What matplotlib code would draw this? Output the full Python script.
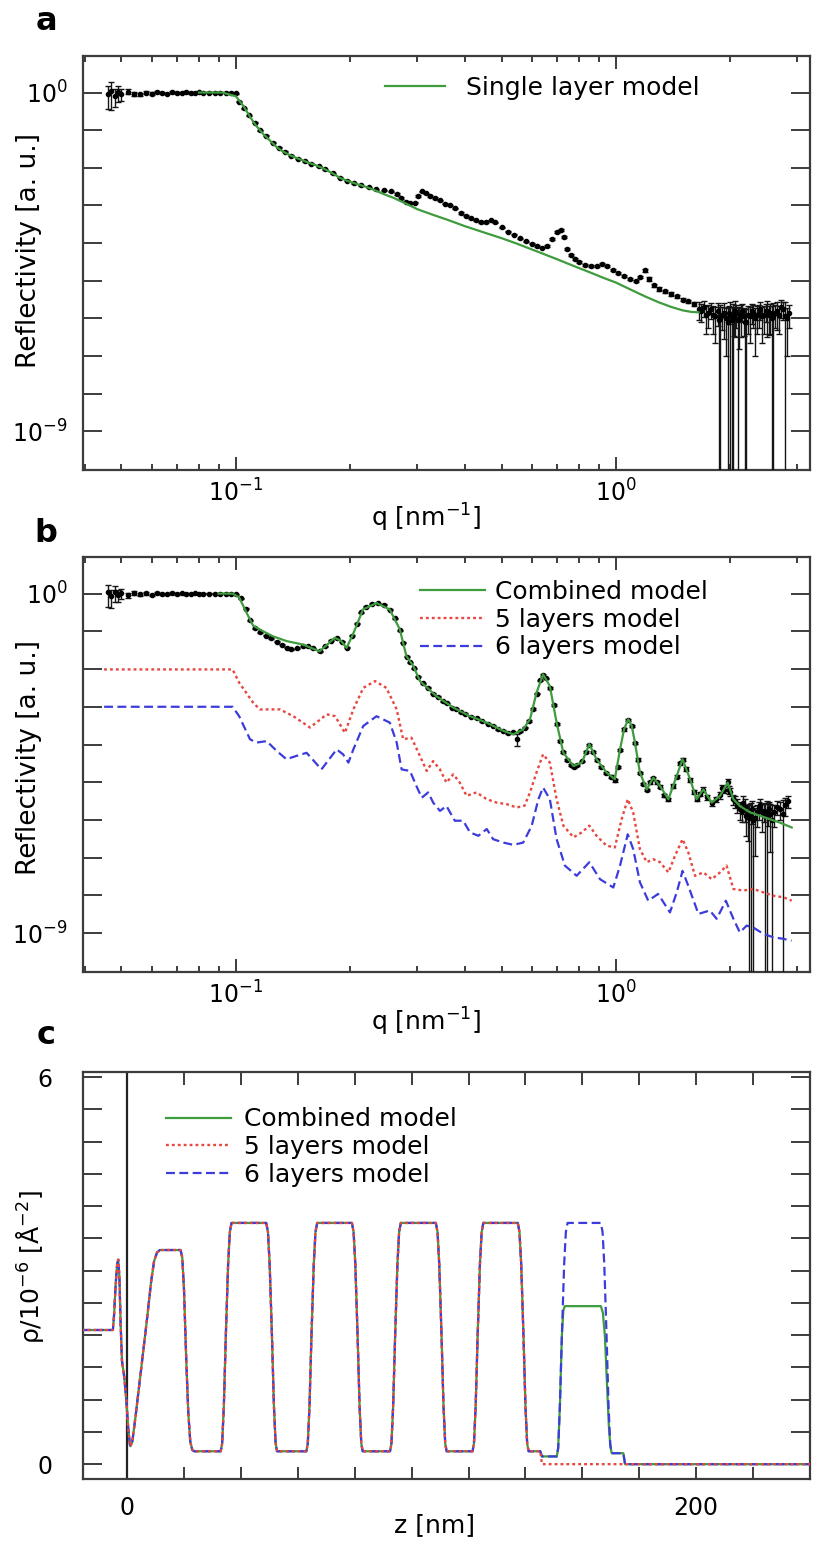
import numpy as np
import matplotlib
matplotlib.use("Agg")
import matplotlib.pyplot as plt
from matplotlib.ticker import FixedLocator, FixedFormatter, NullLocator, NullFormatter

# ------------------------------------------------------------------ data
# ---- panel a : measured reflectivity (q in nm^-1, log10 R, relative error)
qa_data = [
    0.046, 0.047, 0.048, 0.049, 0.050, 0.052, 0.054, 0.056, 0.058, 0.060,
    0.062, 0.064, 0.066, 0.068, 0.070, 0.072, 0.074, 0.076, 0.078, 0.080,
    0.082, 0.085, 0.088, 0.091, 0.094, 0.097, 0.100,
    0.102, 0.105, 0.108, 0.112, 0.116, 0.120, 0.125, 0.130, 0.135, 0.140,
    0.146, 0.152, 0.158, 0.165, 0.172, 0.180, 0.188, 0.196, 0.205, 0.214,
    0.224, 0.234, 0.245, 0.256,
    0.265, 0.272, 0.280, 0.288, 0.296, 0.302, 0.308, 0.316, 0.325, 0.335,
    0.345, 0.355, 0.365, 0.378, 0.390, 0.402, 0.415, 0.428, 0.442, 0.455,
    0.468, 0.480, 0.500, 0.520, 0.540, 0.560, 0.580, 0.600, 0.620, 0.640,
    0.660, 0.680, 0.700, 0.715, 0.730, 0.745, 0.760, 0.780, 0.800, 0.830,
    0.860, 0.890, 0.920, 0.950, 0.980, 1.010, 1.050, 1.090, 1.130, 1.160,
    1.190, 1.220, 1.260, 1.300, 1.350, 1.400, 1.450, 1.500, 1.550, 1.600,
    1.65, 1.70, 1.75, 1.80, 1.85, 1.88, 1.92, 1.97, 2.00, 2.03,
    2.06, 2.09, 2.13, 2.17, 2.20, 2.25, 2.30, 2.35, 2.40, 2.45,
    2.50, 2.55, 2.59, 2.65, 2.72, 2.79, 2.85]
logRa_data = [
    -0.03, 0.05, -0.08, 0.02, -0.05, 0.02, -0.03, -0.05, 0.00, -0.03,
    0.02, -0.02, -0.03, 0.01, -0.02, 0.00, 0.01, -0.02, 0.00, 0.01,
    0.00, -0.01, 0.00, 0.00, 0.00, 0.00, -0.02,
    -0.25, -0.42, -0.60, -0.80, -1.00, -1.15, -1.33, -1.47, -1.58, -1.68,
    -1.76, -1.83, -1.89, -1.96, -2.04, -2.15, -2.27, -2.35, -2.41, -2.46,
    -2.52, -2.57, -2.60, -2.63,
    -2.70, -2.80, -2.90, -2.94, -2.93, -2.75, -2.63, -2.68, -2.75, -2.80,
    -2.86, -2.95, -3.00, -3.08, -3.20, -3.27, -3.34, -3.40, -3.45, -3.44,
    -3.40, -3.45, -3.58, -3.70, -3.78, -3.87, -3.95, -4.02, -4.08, -4.12,
    -4.08, -3.90, -3.70, -3.65, -3.85, -4.15, -4.32, -4.42, -4.50, -4.58,
    -4.62, -4.60, -4.56, -4.60, -4.72, -4.80, -4.88, -4.95, -5.02, -4.90,
    -4.72, -4.95, -5.12, -5.22, -5.28, -5.35, -5.42, -5.50, -5.55, -5.62,
    -5.75, -5.70, -5.85, -5.90, -5.80, -6.00, -5.85, -6.10, -5.90, -6.00,
    -5.80, -6.05, -5.90, -5.95, -6.10, -5.95, -5.85, -5.90, -5.75, -5.90,
    -5.80, -5.85, -5.95, -5.80, -5.70, -5.95, -5.85]
rela_data = ([0.60, 0.70, 0.50, 0.45, 0.35, 0.15, 0.12, 0.10, 0.08, 0.08,
              0.06, 0.06, 0.05, 0.05, 0.05, 0.04, 0.04, 0.04, 0.03, 0.03,
              0.03, 0.03, 0.03, 0.03, 0.03, 0.03, 0.03]
             + [0.03] * 24 + [0.04] * 30 + [0.06] * 20 + [0.10] * 10
             + [0.50, 0.45, 0.60, 0.70, 0.60, 1.30, 0.80, 1.50, 1.20, 1.40,
                0.80, 1.30, 0.75, 0.70, 1.20, 0.80, 0.60, 0.70, 0.50, 0.70,
                0.80, 0.75, 1.30, 0.70, 0.50, 1.40, 0.60])
# extra noisy high-q points of panel a
qa_hi = [1.675, 1.725, 1.775, 1.825, 1.865, 1.90, 1.945, 1.985, 2.015, 2.045,
         2.075, 2.11, 2.15, 2.185, 2.225, 2.275, 2.325, 2.375, 2.425, 2.475,
         2.525, 2.57, 2.62, 2.685, 2.755, 2.82]
logRa_hi = [-5.80, -5.90, -5.75, -5.95, -6.05, -5.90, -6.00, -5.85, -6.05, -5.95,
            -5.85, -6.00, -5.80, -6.10, -5.90, -5.80, -6.00, -5.85, -5.95, -5.80,
            -5.90, -6.00, -5.85, -5.90, -5.75, -6.00]
rela_hi = [0.50, 0.70, 0.45, 0.80, 1.20, 0.60, 0.90, 0.50, 1.30, 0.70,
           0.60, 0.85, 0.50, 1.20, 0.70, 0.55, 0.90, 0.60, 0.80, 0.50,
           0.70, 1.10, 0.60, 0.70, 0.50, 0.90]

# ---- panel a : single layer model
qa_model = [0.08, 0.092, 0.1, 0.105, 0.109, 0.113, 0.118, 0.123, 0.128, 0.133,
            0.139, 0.146, 0.154, 0.162, 0.17, 0.179, 0.188, 0.198, 0.208, 0.219,
            0.23, 0.245, 0.26, 0.28, 0.3, 0.33, 0.36, 0.4, 0.45, 0.5,
            0.55, 0.63, 0.7, 0.77, 0.85, 0.93, 1.0, 1.1, 1.2, 1.3,
            1.4, 1.5, 1.58, 1.65]
logRa_model = [0, 0, -0.1, -0.38, -0.65, -0.88, -1.1, -1.28, -1.45, -1.57,
               -1.67, -1.76, -1.85, -1.93, -2.02, -2.14, -2.27, -2.36, -2.43, -2.5,
               -2.58, -2.7, -2.8, -2.95, -3.1, -3.25, -3.38, -3.55, -3.72, -3.87,
               -4.02, -4.25, -4.43, -4.6, -4.77, -4.93, -5.05, -5.25, -5.43, -5.58,
               -5.7, -5.79, -5.83, -5.84]

# ---- panel b : measured reflectivity
qb_data = [
    0.046, 0.047, 0.048, 0.049, 0.050, 0.052, 0.054, 0.056, 0.058, 0.060,
    0.062, 0.064, 0.066, 0.068, 0.070, 0.072, 0.074, 0.076, 0.078, 0.080,
    0.082, 0.085, 0.088, 0.091, 0.094, 0.097, 0.100,
    0.103, 0.106, 0.109, 0.112, 0.116, 0.120, 0.124, 0.128, 0.132, 0.136,
    0.140, 0.145, 0.150, 0.155, 0.160, 0.166, 0.172, 0.178, 0.184, 0.190,
    0.196, 0.202, 0.208, 0.214, 0.220, 0.228, 0.236, 0.245, 0.254, 0.262,
    0.270, 0.276, 0.282, 0.288, 0.295, 0.302, 0.310, 0.320, 0.330, 0.340,
    0.350, 0.360, 0.370, 0.380, 0.390, 0.400, 0.415, 0.430, 0.445, 0.460,
    0.475, 0.490, 0.505, 0.520, 0.535, 0.548, 0.560, 0.575, 0.590, 0.605,
    0.618, 0.630, 0.643, 0.656, 0.670, 0.685, 0.698, 0.712, 0.727, 0.745,
    0.760, 0.775, 0.790, 0.813, 0.832, 0.851, 0.870, 0.889, 0.915, 0.944,
    0.970, 0.993, 1.010, 1.025, 1.050, 1.077, 1.100, 1.122, 1.140, 1.156,
    1.180, 1.205, 1.230, 1.254, 1.280, 1.306, 1.340, 1.374, 1.410, 1.445,
    1.470, 1.497, 1.530, 1.567, 1.600, 1.630, 1.660, 1.698, 1.740, 1.786,
    1.830, 1.879, 1.920, 1.967, 2.000, 2.037, 2.080, 2.118, 2.160, 2.200,
    2.240, 2.280, 2.300, 2.350, 2.400, 2.450, 2.490, 2.530, 2.570, 2.650,
    2.750, 2.830]
logRb_data = [
    0.03, -0.07, 0.05, -0.03, 0.01, -0.04, 0.02, -0.02, 0.01, -0.03,
    0.01, 0.00, -0.02, 0.01, -0.01, 0.01, -0.01, 0.00, 0.01, 0.00,
    -0.01, 0.00, 0.00, 0.00, -0.01, 0.00, -0.02,
    -0.12, -0.40, -0.70, -0.92, -1.02, -1.12, -1.18, -1.28, -1.36, -1.43,
    -1.47, -1.45, -1.40, -1.40, -1.45, -1.53, -1.40, -1.25, -1.18, -1.27,
    -1.44, -1.12, -0.80, -0.50, -0.35, -0.27, -0.25, -0.30, -0.43, -0.65,
    -0.97, -1.30, -1.68, -1.82, -1.98, -2.20, -2.38, -2.50, -2.66, -2.74,
    -2.85, -2.90, -3.02, -3.05, -3.15, -3.18, -3.27, -3.30, -3.38, -3.45,
    -3.50, -3.60, -3.63, -3.70, -3.68, -3.85, -3.65, -3.55, -3.38, -3.05,
    -2.65, -2.30, -2.15, -2.25, -2.50, -2.95, -3.45, -3.90, -4.20, -4.40,
    -4.55, -4.60, -4.55, -4.45, -4.20, -4.00, -4.20, -4.42, -4.60, -4.75,
    -4.85, -4.95, -4.60, -4.15, -3.60, -3.35, -3.50, -3.95, -4.40, -4.75,
    -5.05, -5.20, -5.00, -4.90, -5.00, -5.12, -5.35, -5.45, -5.10, -4.85,
    -4.50, -4.40, -4.65, -4.95, -5.25, -5.45, -5.30, -5.20, -5.40, -5.55,
    -5.45, -5.35, -5.20, -5.00, -5.25, -5.45, -5.60, -5.70, -5.55, -5.90,
    -5.95, -5.70, -6.00, -5.80, -5.60, -5.75, -5.85, -5.70, -6.00, -5.65,
    -5.85, -5.50]
relb_data = ([0.60, 0.50, 0.45, 0.35, 0.30, 0.15, 0.12, 0.10, 0.08, 0.07,
              0.06, 0.06, 0.05, 0.05, 0.05, 0.04, 0.04, 0.04, 0.03, 0.03,
              0.03, 0.03, 0.03, 0.03, 0.03, 0.03, 0.03]
             + [0.03] * 55 + [0.35] + [0.05] * 12 + [0.06] * 12 + [0.07] * 8
             + [0.08] * 8 + [0.10] * 7 + [0.12] * 4 + [0.15] * 4 + [0.20] * 3
             + [0.25, 0.30, 0.40, 0.50, 0.50, 0.70, 1.30, 0.60, 1.40, 0.60,
                0.40, 0.50, 1.30, 0.50, 1.50, 0.40, 1.40, 0.35])
# extra noisy high-q points of panel b
qb_hi = [1.90, 1.985, 2.06, 2.14, 2.18, 2.22, 2.26, 2.32, 2.375, 2.42,
         2.47, 2.51, 2.55, 2.61, 2.70, 2.79]
logRb_hi = [-5.15, -5.20, -5.50, -5.75, -5.65, -5.85, -5.90, -5.95, -5.70, -5.80,
            -5.90, -5.75, -5.85, -5.80, -5.70, -5.60]
relb_hi = [0.20, 0.25, 0.35, 0.50, 0.60, 0.80, 1.20, 0.90, 0.50, 0.70,
           1.30, 0.60, 0.90, 0.60, 0.50, 0.50]

# ---- panel b : models
qb_comb = [0.09, 0.098, 0.102, 0.1067, 0.111, 0.118, 0.125, 0.136, 0.150, 0.166,
           0.174, 0.182, 0.189, 0.1955, 0.204, 0.216, 0.2345, 0.254, 0.27, 0.281,
           0.293, 0.305, 0.337, 0.373, 0.413, 0.457, 0.506, 0.537, 0.57, 0.594,
           0.618, 0.643, 0.67, 0.698, 0.727, 0.773, 0.813, 0.851, 0.889, 0.944,
           0.993, 1.025, 1.05, 1.077, 1.1, 1.122, 1.156, 1.205, 1.254, 1.306,
           1.374, 1.445, 1.497, 1.567, 1.63, 1.698, 1.786, 1.879, 1.967, 2.037,
           2.118, 2.254, 2.399, 2.54, 2.7, 2.9]
logRb_comb = [0, 0, -0.1, -0.51, -0.85, -1.0, -1.13, -1.26, -1.35, -1.53,
              -1.35, -1.17, -1.25, -1.44, -1.04, -0.42, -0.25, -0.42, -0.95, -1.66,
              -1.92, -2.32, -2.72, -3.02, -3.25, -3.42, -3.64, -3.73, -3.6, -3.33,
              -2.63, -2.14, -2.45, -3.42, -4.22, -4.57, -4.48, -3.99, -4.39, -4.74,
              -4.92, -4.13, -3.6, -3.33, -3.5, -3.95, -4.74, -5.19, -4.88, -5.1,
              -5.45, -4.83, -4.39, -4.92, -5.45, -5.19, -5.54, -5.36, -5.01, -5.45,
              -5.63, -5.8, -5.89, -5.98, -6.07, -6.2]
qb_5 = [0.045, 0.098, 0.102, 0.111, 0.1156, 0.1306, 0.1416, 0.1567, 0.1734, 0.1824,
        0.1936, 0.2037, 0.2163, 0.2323, 0.2489, 0.2649, 0.2754, 0.2897, 0.3048, 0.3177,
        0.3304, 0.3443, 0.3581, 0.3733, 0.3882, 0.4046, 0.4295, 0.4571, 0.4853, 0.5152,
        0.548, 0.575, 0.594, 0.618, 0.643, 0.67, 0.698, 0.727, 0.773, 0.813,
        0.851, 0.889, 0.944, 0.993, 1.035, 1.074, 1.11, 1.156, 1.205, 1.254,
        1.306, 1.374, 1.43, 1.497, 1.55, 1.614, 1.698, 1.786, 1.879, 1.954,
        2.037, 2.163, 2.3, 2.443, 2.597, 2.76, 2.9]
logRb_5 = [-2.01, -2.01, -2.36, -2.89, -3.07, -3.07, -3.25, -3.55, -3.2, -3.25,
           -3.69, -3.07, -2.5, -2.32, -2.5, -3.07, -3.86, -3.82, -4.3, -4.7,
           -4.44, -4.66, -5.01, -4.79, -5.01, -5.36, -5.27, -5.45, -5.54, -5.58,
           -5.67, -5.62, -5.27, -4.74, -4.26, -4.48, -5.45, -6.15, -6.46, -6.33,
           -6.15, -6.42, -6.68, -6.73, -5.98, -5.45, -5.8, -6.77, -7.12, -7.04,
           -7.12, -7.39, -6.95, -6.51, -6.86, -7.48, -7.39, -7.57, -7.39, -7.21,
           -7.83, -7.87, -7.83, -7.92, -8.01, -8.05, -8.14]
qb_6 = [0.045, 0.098, 0.102, 0.1089, 0.1132, 0.1205, 0.128, 0.1358, 0.1445, 0.1535,
        0.1679, 0.1841, 0.1914, 0.1977, 0.2037, 0.2163, 0.2344, 0.2541, 0.2649, 0.2729,
        0.2871, 0.2985, 0.3083, 0.3206, 0.3304, 0.3443, 0.3581, 0.3767, 0.3963, 0.413,
        0.4345, 0.4571, 0.4753, 0.5058, 0.537, 0.57, 0.6, 0.625, 0.643, 0.67,
        0.698, 0.734, 0.788, 0.851, 0.908, 0.984, 1.025, 1.074, 1.11, 1.156,
        1.216, 1.291, 1.387, 1.445, 1.497, 1.549, 1.648, 1.766, 1.841, 1.946,
        2.037, 2.118, 2.208, 2.297, 2.443, 2.594, 2.754, 2.897]
logRb_6 = [-3.0, -3.0, -3.25, -3.86, -3.95, -3.91, -4.17, -4.39, -4.3, -4.22,
           -4.66, -4.13, -4.26, -4.48, -4.13, -3.51, -3.25, -3.42, -3.95, -4.66,
           -4.7, -5.1, -5.41, -5.27, -5.54, -5.76, -5.63, -6.02, -6.02, -6.33,
           -6.42, -6.24, -6.51, -6.6, -6.66, -6.6, -6.16, -5.45, -5.14, -5.45,
           -6.51, -7.21, -7.48, -7.12, -7.57, -7.79, -7.21, -6.38, -6.77, -7.65,
           -8.14, -7.96, -8.45, -7.92, -7.35, -7.74, -8.49, -8.4, -8.62, -8.14,
           -8.62, -8.98, -8.8, -8.85, -9.02, -9.11, -9.15, -9.2]

# ---- panel c : scattering length density profiles (z in nm, rho in 1e-6 A^-2)
z_shared = [-16.0, -5.0, -4.6, -4.0, -3.5, -3.1, -2.7, -2.3, -1.8, -1.0, -0.3, 0.4, 1.0, 1.2,
            1.8, 3.0, 5.0, 7.0, 8.5, 9.5, 10.5, 11.5, 18.8, 19.4, 20.0, 20.8, 21.5, 22.2, 22.9, 23.6,
            32.9, 33.4, 34.0, 34.7, 35.5, 36.1, 36.7, 48.9, 49.5, 50.1, 50.9, 51.6, 52.2, 52.7,
            63.0, 63.5, 64.1, 64.8, 65.6, 66.2, 66.8, 79.0, 79.6, 80.2, 81.0, 81.7, 82.3, 82.8,
            92.4, 92.9, 93.5, 94.2, 95.0, 95.6, 96.2, 108.5, 109.1, 109.7, 110.5, 111.2, 111.8, 112.3,
            121.4, 121.9, 122.5, 123.2, 124.0, 124.6, 125.2, 137.3, 137.9, 138.5, 139.3, 140.0, 140.6, 141.1,
            145.2]
rho_shared = [2.08, 2.08, 2.3, 2.8, 3.1, 3.17, 2.9, 2.2, 1.6, 1.35, 1.0, 0.55, 0.3, 0.28,
              0.34, 0.75, 1.5, 2.25, 2.85, 3.15, 3.28, 3.32, 3.32, 3.2, 2.7, 1.6, 0.8, 0.35, 0.22, 0.2,
              0.2, 0.32, 0.9, 2.0, 3.1, 3.6, 3.74, 3.74, 3.6, 3.1, 2.0, 0.9, 0.32, 0.2,
              0.2, 0.32, 0.9, 2.0, 3.1, 3.6, 3.74, 3.74, 3.6, 3.1, 2.0, 0.9, 0.32, 0.2,
              0.2, 0.32, 0.9, 2.0, 3.1, 3.6, 3.74, 3.74, 3.6, 3.1, 2.0, 0.9, 0.32, 0.2,
              0.2, 0.32, 0.9, 2.0, 3.1, 3.6, 3.74, 3.74, 3.6, 3.1, 2.0, 0.9, 0.32, 0.2,
              0.2]
z_tail_comb = [145.8, 151.0, 151.5, 152.1, 152.8, 153.3, 153.8, 166.5, 167.2, 167.9,
               168.6, 169.3, 169.8, 170.3, 174.4, 175.0, 240.0]
rho_tail_comb = [0.12, 0.12, 0.25, 0.9, 2.0, 2.38, 2.45, 2.45, 2.35, 2.0,
                 1.3, 0.6, 0.3, 0.17, 0.17, 0.0, 0.0]
z_tail_5 = [145.8, 240.0]
rho_tail_5 = [0.0, 0.0]
z_tail_6 = [145.8, 151.0, 151.5, 152.1, 152.8, 153.6, 154.2, 154.8, 166.5, 167.1,
            167.7, 168.5, 169.2, 169.8, 170.3, 174.4, 175.0, 240.0]
rho_tail_6 = [0.12, 0.12, 0.25, 0.9, 2.0, 3.1, 3.6, 3.74, 3.74, 3.6,
              3.1, 2.0, 0.9, 0.3, 0.17, 0.17, 0.0, 0.0]

# ---- tick labels
q_major = [0.1, 1.0]
q_major_labels = [r'$10^{-1}$', r'$10^{0}$']
q_minor = [0.04, 0.05, 0.06, 0.07, 0.08, 0.09, 0.2, 0.3, 0.4, 0.5, 0.6, 0.7,
           0.8, 0.9, 2.0, 3.0]
R_ticks = [1e0, 1e-1, 1e-2, 1e-3, 1e-4, 1e-5, 1e-6, 1e-7, 1e-8, 1e-9]
R_tick_labels = [r'$10^{0}$', '', '', '', '', '', '', '', '', r'$10^{-9}$']
z_ticks = [0, 20, 40, 60, 80, 100, 120, 140, 160, 180, 200, 220]
z_tick_labels = ['0', '', '', '', '', '', '', '', '', '', '200', '']
rho_ticks = [0, 0.5, 1, 1.5, 2, 2.5, 3, 3.5, 4, 4.5, 5, 5.5, 6]
rho_tick_labels = ['0', '', '', '', '', '', '', '', '', '', '', '', '6']

# ------------------------------------------------------------------ style
GREEN = '#3e9b3e'
RED = '#e8463e'
BLUE = '#3c3cdc'
AXC = '#3c3c3c'
plt.rcParams['font.family'] = ['DejaVu Sans']
plt.rcParams['mathtext.fontset'] = 'dejavusans'

W, H = 813, 1555
fig = plt.figure(figsize=(W / 100, H / 100), dpi=100)


def box(l, t, r, b):
    return [l / W, 1 - b / H, (r - l) / W, (b - t) / H]


axA = fig.add_axes(box(83, 56, 810, 470))
axB = fig.add_axes(box(83, 557, 810, 972))
axC = fig.add_axes(box(83, 1072, 810, 1479))


def style_spines(ax):
    for sp in ax.spines.values():
        sp.set_color(AXC)
        sp.set_linewidth(1.6)


def style_refl(ax):
    ax.set_xscale('log')
    ax.set_yscale('log')
    ax.set_xlim(0.0396, 3.24)
    ax.set_ylim(10 ** -10.03, 10 ** 0.97)
    ax.xaxis.set_major_locator(FixedLocator(q_major))
    ax.xaxis.set_major_formatter(FixedFormatter(q_major_labels))
    ax.xaxis.set_minor_locator(FixedLocator(q_minor))
    ax.xaxis.set_minor_formatter(NullFormatter())
    ax.yaxis.set_major_locator(FixedLocator(R_ticks))
    ax.yaxis.set_major_formatter(FixedFormatter(R_tick_labels))
    ax.yaxis.set_minor_locator(NullLocator())
    ax.tick_params(axis='both', which='both', direction='in', top=True, right=True,
                   color=AXC, width=1.4, labelsize=17)
    ax.tick_params(axis='x', which='major', length=9.5, pad=7)
    ax.tick_params(axis='x', which='minor', length=4.5)
    ax.tick_params(axis='y', which='major', length=14, pad=11)
    style_spines(ax)


def draw_data(ax, q, logr, rel):
    q = np.asarray(q)
    R = 10.0 ** np.asarray(logr)
    err = np.asarray(rel) * R
    ax.errorbar(q, R, yerr=err, fmt='o', ms=3.0, mfc='black', mec='black',
                ecolor='#151515', elinewidth=1.0, capsize=2.0, capthick=1.0,
                zorder=3, label='_nolegend_')


# ---------------- panel a
style_refl(axA)
draw_data(axA, qa_data + qa_hi, logRa_data + logRa_hi, rela_data + rela_hi)
axA.plot(qa_model, 10.0 ** np.asarray(logRa_model), color=GREEN, lw=1.6, zorder=4,
         label='Single layer model')
axA.legend(loc='center left', bbox_to_anchor=(0.4154, 0.9227), frameon=False,
           fontsize=18, handlelength=2.4, handletextpad=0.85, borderpad=0,
           borderaxespad=0)
axA.set_ylabel('Reflectivity [a. u.]', fontsize=19)
axA.yaxis.set_label_coords((29 - 83) / 727, 0.53)
axA.yaxis.label.set_va('center')
axA.set_xlabel('q [nm$^{-1}$]', fontsize=18)
axA.xaxis.set_label_coords(0.472, -0.116)
axA.xaxis.label.set_va('center')

# ---------------- panel b
style_refl(axB)
draw_data(axB, qb_data + qb_hi, logRb_data + logRb_hi, relb_data + relb_hi)
axB.plot(qb_comb, 10.0 ** np.asarray(logRb_comb), color=GREEN, lw=1.6, zorder=4,
         label='Combined model')
axB.plot(qb_5, 10.0 ** np.asarray(logRb_5), color=RED, lw=1.7, ls=(0, (1.2, 1.3)),
         zorder=4, label='5 layers model')
axB.plot(qb_6, 10.0 ** np.asarray(logRb_6), color=BLUE, lw=1.6, ls=(0, (4, 2)),
         zorder=4, label='6 layers model')
axB.legend(loc='center left', bbox_to_anchor=(0.4636, 0.849), frameon=False,
           fontsize=18, handlelength=2.6, handletextpad=0.4, borderpad=0,
           borderaxespad=0, labelspacing=0.15)
axB.set_ylabel('Reflectivity [a. u.]', fontsize=19)
axB.yaxis.set_label_coords((29 - 83) / 727, 0.518)
axB.yaxis.label.set_va('center')
axB.set_xlabel('q [nm$^{-1}$]', fontsize=18)
axB.xaxis.set_label_coords(0.472, -0.12)
axB.xaxis.label.set_va('center')

# ---------------- panel c
axC.set_xlim(-15.5, 240)
axC.set_ylim(-0.23, 6.08)
axC.plot(z_shared + z_tail_comb, rho_shared + rho_tail_comb, color=GREEN, lw=1.6,
         zorder=3, label='Combined model')
axC.plot(z_shared + z_tail_5, rho_shared + rho_tail_5, color=RED, lw=1.7,
         ls=(0, (1.2, 1.3)), zorder=5, label='5 layers model')
axC.plot(z_shared + z_tail_6, rho_shared + rho_tail_6, color=BLUE, lw=1.6,
         ls=(0, (4, 2)), zorder=4, label='6 layers model')
axC.axvline(0, color='#222222', lw=1.6, zorder=2)
axC.xaxis.set_major_locator(FixedLocator(z_ticks))
axC.xaxis.set_major_formatter(FixedFormatter(z_tick_labels))
axC.yaxis.set_major_locator(FixedLocator(rho_ticks))
axC.yaxis.set_major_formatter(FixedFormatter(rho_tick_labels))
axC.tick_params(axis='both', which='both', direction='in', top=True, right=True,
                color=AXC, width=1.4, labelsize=17)
axC.tick_params(axis='x', length=9, pad=12)
axC.tick_params(axis='y', length=14, pad=22)
style_spines(axC)
axC.legend(loc='center left', bbox_to_anchor=(0.1142, 0.8157), frameon=False,
           fontsize=18, handlelength=2.6, handletextpad=0.5, borderpad=0,
           borderaxespad=0, labelspacing=0.15)
axC.set_ylabel('ρ/10$^{-6}$ [Å$^{-2}$]', fontsize=18)
axC.yaxis.set_label_coords((30 - 83) / 727, 0.521)
axC.yaxis.label.set_va('center')
axC.set_xlabel('z [nm]', fontsize=18)
axC.xaxis.set_label_coords(0.484, -0.113)
axC.xaxis.label.set_va('center')

# panel letters
for letter, ypx in (('a', 21), ('b', 533), ('c', 1036)):
    fig.text(46 / W, 1 - ypx / H, letter, fontsize=23, fontweight='bold',
             ha='center', va='center')

fig.savefig('out.png', dpi=100)
